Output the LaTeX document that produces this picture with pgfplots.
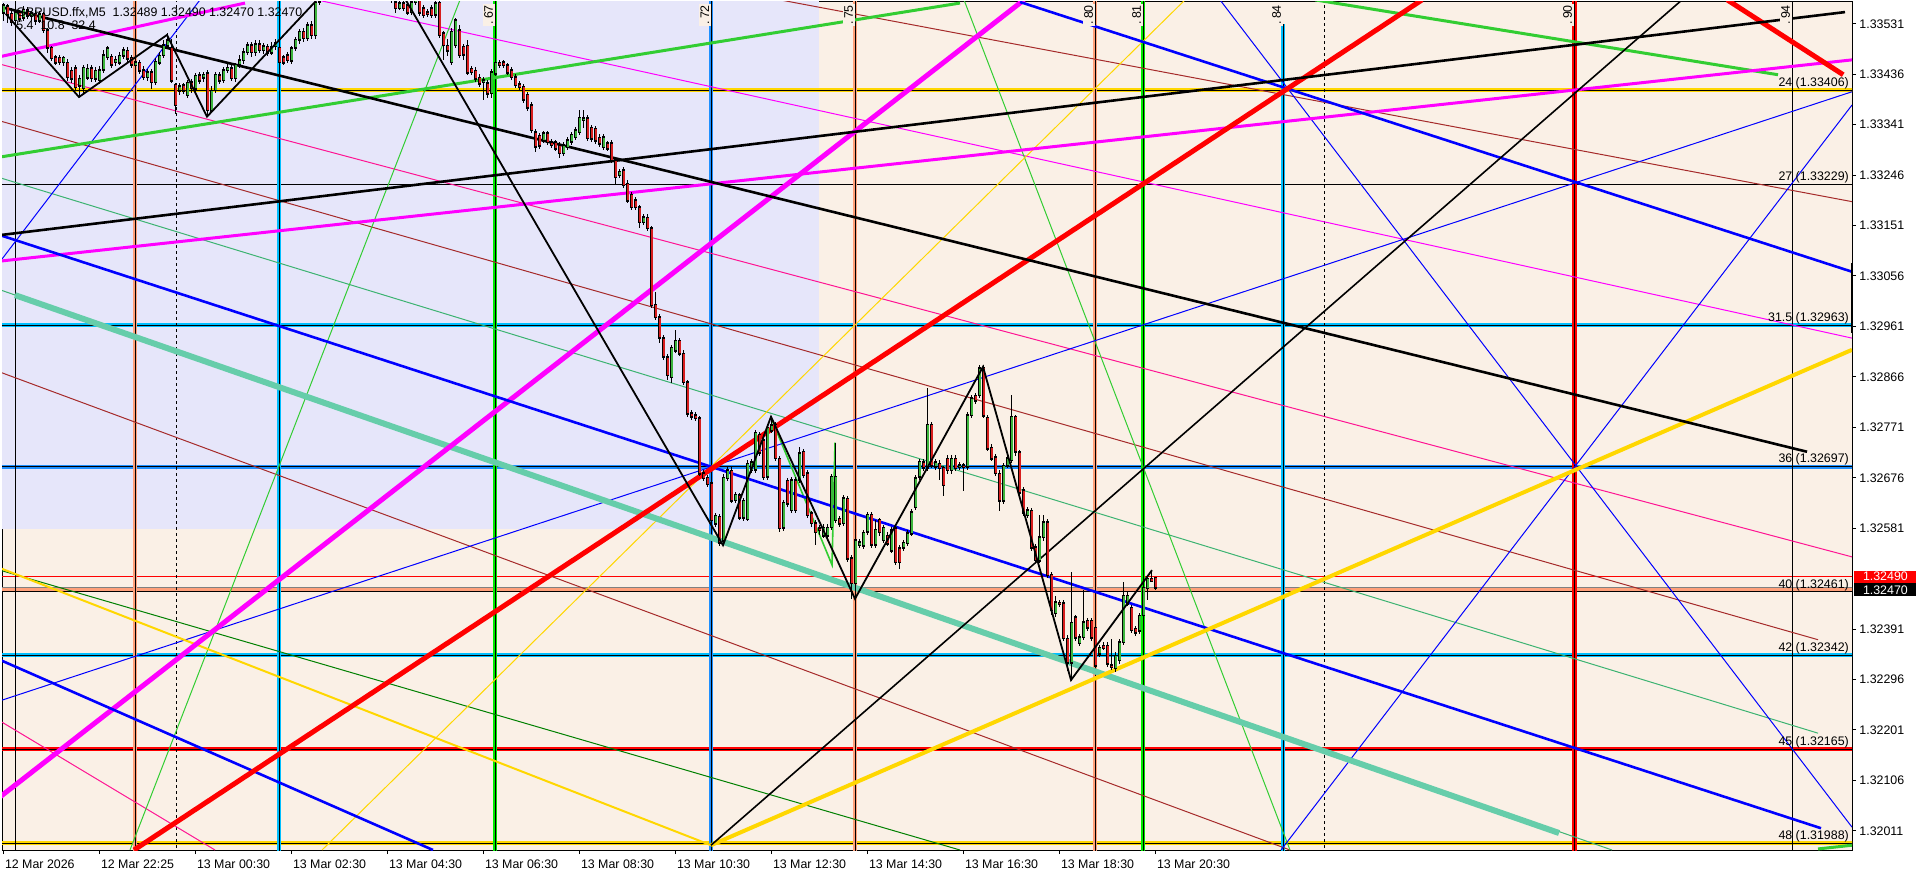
\documentclass[border=0pt]{standalone}
\usepackage{pgfplots}
\usepackage{pgfplotstable}
\usepackage{fontspec}
\setmainfont{Liberation Sans}
\pgfplotsset{compat=1.18}
\definecolor{linen}{RGB}{250,240,230}
\definecolor{lav}{RGB}{230,230,250}
\definecolor{gold}{RGB}{255,215,0}
\definecolor{dsky}{RGB}{0,191,255}
\definecolor{dodger}{RGB}{30,144,255}
\definecolor{salm}{RGB}{255,160,122}
\definecolor{limev}{RGB}{0,235,0}
\definecolor{limeg}{RGB}{50,205,50}
\definecolor{seag}{RGB}{60,179,113}
\definecolor{aqua}{RGB}{102,205,170}
\definecolor{magen}{RGB}{255,0,255}
\definecolor{dpink}{RGB}{255,20,147}
\definecolor{brn}{RGB}{165,42,42}
\definecolor{dgreen}{RGB}{0,128,0}
\definecolor{bullc}{RGB}{60,180,60}
\definecolor{bearc}{RGB}{215,30,30}
\newcommand{\lbl}{\fontsize{6.2}{7}\selectfont}
\pgfplotstableread{
i o h l c
0 133553 133572 133538 133567
1 133565 133570 133534 133549
2 133550 133561 133527 133534
3 133538 133561 133530 133553
4 133553 133559 133536 133542
5 133542 133565 133536 133557
6 133557 133563 133540 133546
7 133546 133557 133538 133551
8 133551 133557 133530 133538
9 133538 133555 133532 133550
10 133550 133553 133513 133519
11 133519 133525 133478 133486
12 133486 133491 133461 133467
13 133469 133474 133454 133459
14 133467 133472 133454 133459
15 133459 133472 133452 133467
16 133459 133465 133425 133431
17 133444 133452 133421 133429
18 133448 133454 133406 133412
19 133416 133435 133393 133429
20 133410 133454 133402 133448
21 133431 133455 133425 133448
22 133448 133454 133421 133429
23 133429 133450 133421 133444
24 133425 133452 133418 133444
25 133444 133482 133438 133472
26 133469 133491 133463 133486
27 133469 133474 133448 133454
28 133459 133472 133452 133463
29 133459 133478 133454 133472
30 133472 133488 133467 133482
31 133482 133488 133461 133467
32 133467 133472 133448 133454
33 133454 133467 133448 133459
34 133459 133465 133438 133444
35 133444 133452 133425 133431
36 133431 133446 133423 133440
37 133440 133446 133410 133421
38 133421 133467 133416 133459
39 133459 133478 133454 133472
40 133472 133501 133467 133491
41 133491 133514 133486 133501
42 133487 133504 133420 133425
43 133416 133421 133363 133378
44 133406 133420 133397 133414
45 133416 133421 133399 133406
46 133397 133425 133391 133421
47 133421 133427 133402 133410
48 133410 133440 133404 133435
49 133435 133440 133418 133425
50 133429 133440 133421 133435
51 133438 133444 133356 133369
52 133369 133414 133363 133406
53 133406 133440 133401 133435
54 133435 133440 133418 133425
55 133425 133450 133420 133444
56 133444 133455 133438 133448
57 133448 133454 133423 133429
58 133429 133459 133423 133454
59 133454 133472 133448 133463
60 133463 133486 133457 133478
61 133478 133497 133472 133491
62 133491 133497 133469 133478
63 133478 133501 133472 133493
64 133493 133501 133476 133482
65 133482 133497 133476 133489
66 133489 133495 133472 133478
67 133478 133497 133472 133489
68 133489 133504 133482 133495
69 133486 133491 133454 133459
70 133469 133474 133454 133459
71 133472 133478 133457 133463
72 133463 133491 133457 133486
73 133486 133508 133480 133501
74 133501 133523 133493 133516
75 133516 133523 133497 133504
76 133504 133534 133499 133529
77 133529 133538 133504 133510
78 133510 133585 133504 133572
79 133572 133599 133567 133591
80 133591 133614 133585 133604
81 133604 133625 133597 133617
82 133617 133636 133610 133629
83 133629 133649 133621 133642
84 133642 133659 133634 133651
85 133651 133670 133644 133663
86 133663 133678 133655 133670
87 133670 133687 133663 133680
88 133680 133687 133663 133670
89 133670 133693 133663 133685
90 133685 133693 133666 133674
91 133674 133689 133666 133681
92 133681 133693 133659 133666
93 133666 133674 133644 133651
94 133651 133659 133629 133636
95 133636 133644 133610 133617
96 133617 133625 133591 133599
97 133599 133606 133572 133580
98 133572 133576 133553 133561
99 133561 133576 133557 133570
100 133570 133576 133555 133561
101 133567 133572 133548 133553
102 133553 133580 133548 133572
103 133572 133584 133567 133576
104 133576 133582 133546 133553
105 133561 133568 133542 133548
106 133553 133559 133544 133550
107 133561 133568 133542 133548
108 133548 133578 133542 133570
109 133572 133580 133504 133510
110 133514 133519 133463 133491
111 133491 133504 133472 133482
112 133459 133523 133454 133516
113 133491 133542 133486 133538
114 133519 133529 133467 133472
115 133487 133493 133463 133472
116 133491 133501 133435 133440
117 133446 133452 133435 133440
118 133444 133450 133421 133429
119 133431 133437 133414 133420
120 133421 133431 133388 133425
121 133420 133425 133391 133401
122 133401 133446 133391 133440
123 133438 133465 133433 133459
124 133459 133465 133450 133455
125 133459 133463 133448 133454
126 133454 133459 133435 133440
127 133444 133450 133425 133431
128 133431 133437 133410 133416
129 133418 133423 133406 133412
130 133412 133418 133382 133388
131 133397 133403 133367 133373
132 133378 133384 133326 133331
133 133327 133333 133290 133299
134 133322 133327 133297 133303
135 133312 133331 133307 133326
136 133326 133331 133303 133309
137 133309 133314 133297 133303
138 133309 133314 133292 133297
139 133303 133309 133278 133288
140 133288 133309 133282 133303
141 133299 133318 133293 133312
142 133309 133327 133303 133322
143 133318 133337 133312 133331
144 133327 133369 133322 133354
145 133350 133369 133335 133354
146 133354 133359 133310 133316
147 133337 133342 133310 133316
148 133335 133340 133307 133312
149 133318 133324 133301 133307
150 133299 133324 133293 133318
151 133307 133312 133292 133297
152 133307 133312 133269 133275
153 133275 133280 133228 133243
154 133246 133258 133241 133252
155 133256 133261 133222 133228
156 133231 133237 133194 133199
157 133209 133214 133180 133186
158 133199 133205 133180 133186
159 133186 133192 133147 133158
160 133158 133173 133152 133167
161 133167 133173 133141 133147
162 133147 133152 132996 133002
163 133002 133026 132973 132979
164 132979 132985 132932 132941
165 132939 132945 132898 132904
166 132904 132909 132860 132870
167 132866 132926 132855 132921
168 132917 132954 132911 132936
169 132936 132941 132906 132911
170 132911 132917 132851 132857
171 132857 132862 132792 132798
172 132798 132804 132785 132791
173 132794 132800 132783 132789
174 132789 132794 132680 132685
175 132685 132691 132670 132676
176 132678 132683 132661 132666
177 132666 132672 132591 132597
178 132591 132612 132585 132606
179 132602 132608 132548 132553
180 132559 132683 132550 132678
181 132676 132697 132670 132691
182 132691 132697 132629 132634
183 132634 132649 132629 132644
184 132644 132649 132597 132602
185 132602 132640 132597 132634
186 132600 132710 132595 132704
187 132691 132712 132685 132706
188 132691 132766 132685 132761
189 132757 132762 132717 132723
190 132747 132753 132672 132678
191 132678 132776 132672 132770
192 132766 132791 132761 132776
193 132776 132781 132708 132713
194 132713 132719 132576 132582
195 132582 132634 132576 132629
196 132672 132678 132623 132629
197 132615 132678 132610 132672
198 132672 132678 132610 132615
199 132672 132734 132666 132723
200 132725 132730 132676 132681
201 132685 132691 132600 132606
202 132610 132615 132585 132591
203 132591 132597 132550 132574
204 132582 132587 132568 132578
205 132568 132589 132563 132583
206 132568 132589 132563 132583
207 132583 132683 132578 132678
208 132597 132742 132591 132678
209 132600 132606 132585 132591
210 132591 132644 132585 132638
211 132638 132644 132519 132525
212 132525 132531 132448 132478
213 132478 132565 132452 132559
214 132550 132561 132544 132555
215 132550 132580 132544 132574
216 132574 132612 132568 132606
217 132606 132612 132544 132550
218 132550 132597 132544 132578
219 132597 132602 132568 132574
220 132559 132587 132553 132582
221 132568 132574 132548 132553
222 132540 132583 132534 132578
223 132582 132587 132512 132518
224 132544 132550 132506 132518
225 132544 132559 132538 132553
226 132553 132578 132548 132572
227 132572 132617 132566 132612
228 132621 132681 132615 132676
229 132678 132712 132672 132706
230 132706 132712 132689 132695
231 132695 132847 132689 132776
232 132776 132781 132695 132700
233 132697 132712 132691 132706
234 132704 132710 132672 132695
235 132695 132700 132644 132662
236 132713 132719 132685 132691
237 132691 132719 132685 132713
238 132713 132719 132689 132695
239 132697 132706 132691 132700
240 132700 132706 132653 132697
241 132697 132800 132691 132794
242 132794 132832 132789 132826
243 132832 132838 132817 132823
244 132832 132889 132826 132883
245 132885 132889 132789 132794
246 132791 132796 132727 132732
247 132734 132740 132708 132713
248 132715 132721 132680 132685
249 132685 132691 132615 132634
250 132634 132706 132629 132700
251 132700 132719 132695 132713
252 132710 132832 132704 132791
253 132791 132796 132719 132725
254 132725 132730 132644 132649
255 132653 132659 132604 132610
256 132606 132621 132600 132615
257 132615 132621 132540 132546
258 132546 132551 132516 132521
259 132521 132606 132516 132565
260 132565 132608 132559 132593
261 132593 132598 132487 132493
262 132493 132499 132418 132427
263 132421 132455 132416 132442
264 132442 132448 132435 132440
265 132440 132446 132369 132374
266 132374 132380 132314 132329
267 132329 132499 132295 132404
268 132414 132420 132371 132376
269 132365 132382 132359 132376
270 132376 132465 132371 132404
271 132408 132414 132389 132395
272 132408 132414 132371 132376
273 132395 132401 132318 132323
274 132346 132363 132340 132357
275 132361 132367 132352 132357
276 132361 132367 132321 132327
277 132323 132371 132314 132320
278 132318 132348 132312 132342
279 132333 132373 132327 132367
280 132367 132480 132361 132455
281 132440 132461 132435 132455
282 132431 132437 132384 132389
283 132393 132399 132380 132386
284 132389 132423 132384 132418
285 132418 132474 132412 132469
286 132469 132493 132446 132487
287 132487 132502 132480 132484
288 132489 132490 132465 132470
}\candles
\begin{document}
\begin{tikzpicture}
\begin{axis}[
  scale only axis, width=925pt, height=424pt,
  xmin=-0.4, xmax=462.1, ymin=131975, ymax=133572,
  axis background/.style={fill=linen},
  axis line style={black, line width=0.5pt},
  xtick={0,24,...,288},
  xticklabels={12 Mar 2026,12 Mar 22:25,13 Mar 00:30,13 Mar 02:30,13 Mar 04:30,13 Mar 06:30,13 Mar 08:30,13 Mar 10:30,13 Mar 12:30,13 Mar 14:30,13 Mar 16:30,13 Mar 18:30,13 Mar 20:30},
  xtick pos=bottom, ytick pos=right, yticklabel pos=right,
  tick align=outside, major tick length=2pt,
  tick style={black, line width=0.5pt},
  xticklabel style={anchor=north west, font=\lbl, inner sep=0pt, xshift=0.5pt, yshift=-2.5pt},
  ytick={133531,133436,133341,133246,133151,133056,132961,132866,132771,132676,132581,132391,132296,132201,132106,132011},
  yticklabels={1.33531,1.33436,1.33341,1.33246,1.33151,1.33056,1.32961,1.32866,1.32771,1.32676,1.32581,1.32391,1.32296,1.32201,1.32106,1.32011},
  yticklabel style={anchor=west, font=\lbl, inner sep=0pt, xshift=1.5pt},
  scaled y ticks=false,
  clip=true,
]
\coordinate (SW) at (rel axis cs:0,0);
\coordinate (NE) at (rel axis cs:1,1);
\coordinate (NW) at (rel axis cs:0,1);
\coordinate (BID) at (axis cs:462.1,132490);
\coordinate (ASK) at (axis cs:462.1,132470);
% lavender rectangle
\addplot[fill=lav, draw=none] coordinates {(-1,132580) (203.85,132580) (203.85,133700) (-1,133700)} -- cycle;
% horizontal levels
\addplot[gold, line width=2pt] coordinates {(-1,133406) (463,133406)};
\addplot[black, line width=0.4pt] coordinates {(-1,133406) (463,133406)};
\addplot[black, line width=0.5pt] coordinates {(-1,133229) (463,133229)};
\addplot[dsky, line width=2pt] coordinates {(-1,132963) (463,132963)};
\addplot[black, line width=0.4pt] coordinates {(-1,132963) (463,132963)};
\addplot[dodger, line width=2pt] coordinates {(-1,132697) (463,132697)};
\addplot[black, line width=0.4pt] coordinates {(-1,132697) (463,132697)};
\addplot[red, line width=0.5pt] coordinates {(-1,132490) (463,132490)};
\addplot[gray, line width=0.5pt] coordinates {(-1,132470) (463,132470)};
\addplot[salm, line width=1.5pt] coordinates {(-1,132465) (463,132465)};
\addplot[black, line width=0.5pt] coordinates {(-1,132461) (463,132461)};
\addplot[dsky, line width=2pt] coordinates {(-1,132342) (463,132342)};
\addplot[black, line width=0.4pt] coordinates {(-1,132342) (463,132342)};
\addplot[red, line width=2pt] coordinates {(-1,132165) (463,132165)};
\addplot[black, line width=0.4pt] coordinates {(-1,132165) (463,132165)};
\addplot[gold, line width=2pt] coordinates {(-1,131988) (463,131988)};
\addplot[black, line width=0.4pt] coordinates {(-1,131988) (463,131988)};
% vertical lines
\addplot[black, line width=0.5pt] coordinates {(2.85,131900) (2.85,133700)};
\addplot[salm, line width=1.6pt] coordinates {(32.85,131900) (32.85,133700)};
\addplot[black, line width=0.4pt] coordinates {(32.85,131900) (32.85,133700)};
\addplot[black, line width=0.5pt, dash pattern=on 1.5pt off 1.5pt] coordinates {(43.1,131900) (43.1,133700)};
\addplot[dsky, line width=2pt] coordinates {(68.85,131900) (68.85,133700)};
\addplot[black, line width=0.4pt] coordinates {(68.85,131900) (68.85,133700)};
\addplot[limev, line width=2.3pt] coordinates {(122.85,131900) (122.85,133700)};
\addplot[black, line width=0.4pt] coordinates {(122.85,131900) (122.85,133700)};
\addplot[dodger, line width=2pt] coordinates {(176.85,131900) (176.85,133700)};
\addplot[black, line width=0.4pt] coordinates {(176.85,131900) (176.85,133700)};
\addplot[salm, line width=1.6pt] coordinates {(212.85,131900) (212.85,133700)};
\addplot[black, line width=0.4pt] coordinates {(212.85,131900) (212.85,133700)};
\addplot[salm, line width=1.6pt] coordinates {(272.85,131900) (272.85,133700)};
\addplot[black, line width=0.4pt] coordinates {(272.85,131900) (272.85,133700)};
\addplot[limev, line width=2.3pt] coordinates {(284.85,131900) (284.85,133700)};
\addplot[black, line width=0.4pt] coordinates {(284.85,131900) (284.85,133700)};
\addplot[dsky, line width=2pt] coordinates {(319.85,131900) (319.85,133530)};
\addplot[black, line width=0.4pt] coordinates {(319.85,131900) (319.85,133530)};
\addplot[black, line width=0.5pt, dash pattern=on 1.5pt off 1.5pt] coordinates {(330.1,131900) (330.1,133700)};
\addplot[red, line width=2.5pt] coordinates {(392.6,131900) (392.6,133700)};
\addplot[black, line width=0.4pt] coordinates {(392.6,131900) (392.6,133700)};
\addplot[black, line width=0.5pt] coordinates {(447.1,131900) (447.1,133700)};
% diagonal lines
\addplot[seag, line width=0.5pt] coordinates {(-0.9,133241) (453.6,132195)};
\addplot[seag, line width=0.5pt] coordinates {(-0.9,133030) (402.1,131975)};
\addplot[dgreen, line width=0.5pt] coordinates {(-0.9,132502) (239.1,131975)};
\addplot[brn, line width=0.5pt] coordinates {(-0.9,133348) (453.6,132371)};
\addplot[brn, line width=0.5pt] coordinates {(194.1,133576) (462.1,133196)};
\addplot[brn, line width=0.5pt] coordinates {(-0.9,132875) (321.6,131975)};
\addplot[magen, line width=0.5pt] coordinates {(78.35,133576) (462.1,132939)};
\addplot[dpink, line width=0.5pt] coordinates {(-0.9,133455) (462.1,132527)};
\addplot[dpink, line width=0.5pt] coordinates {(-0.9,132218) (52.85,131975)};
\addplot[limeg, line width=0.5pt] coordinates {(31.6,131975) (114.1,133576)};
\addplot[limeg, line width=0.5pt] coordinates {(240.1,133576) (321.6,131975)};
\addplot[limeg, line width=0.8pt] coordinates {(191.85,132789) (207.1,132512) (207.85,132742)};
\addplot[blue, line width=0.5pt] coordinates {(-0.9,132256) (462.1,133403)};
\addplot[blue, line width=0.5pt] coordinates {(-0.9,133083) (49.1,133576)};
\addplot[blue, line width=0.5pt] coordinates {(319.35,131975) (462.1,133378)};
\addplot[blue, line width=0.5pt] coordinates {(304.1,133576) (462.1,132018)};
\addplot[gold, line width=0.5pt] coordinates {(79.6,131975) (295.35,133576)};
\addplot[gold, line width=1pt] coordinates {(-0.9,132506) (176.85,131984)};
\addplot[aqua, line width=3pt] coordinates {(2.85,133020) (388.85,132007)};
\addplot[limeg, line width=1.5pt] coordinates {(-0.9,133280) (239.1,133570)};
\addplot[limeg, line width=1.5pt] coordinates {(327.85,133576) (443.6,133435)};
\addplot[limeg, line width=1.5pt] coordinates {(453.6,131977) (462.1,131984)};
\addplot[magen, line width=1.5pt] coordinates {(-0.9,133084) (462.1,133463)};
\addplot[magen, line width=1.5pt] coordinates {(-0.9,133469) (60.35,133570)};
\addplot[magen, line width=2.5pt] coordinates {(-0.9,132075) (255.1,133576)};
\addplot[blue, line width=1.3pt] coordinates {(-0.9,133133) (454.35,132016)};
\addplot[blue, line width=1.3pt] coordinates {(254.1,133572) (462.1,133064)};
\addplot[blue, line width=1.3pt] coordinates {(-0.9,132333) (107.35,131975)};
\addplot[red, line width=2.5pt] coordinates {(32.6,131975) (354.6,133576)};
\addplot[red, line width=2.5pt] coordinates {(430.9,133576) (459.9,133435)};
\addplot[gold, line width=2pt] coordinates {(176.85,131984) (462.1,132917)};
\addplot[black, line width=1.3pt] coordinates {(-0.9,133133) (460.35,133553)};
\addplot[black, line width=1.3pt] coordinates {(-0.9,133563) (450.85,132725)};
\addplot[black, line width=0.8pt] coordinates {(176.85,131984) (419.6,133576)};
\addplot[black, line width=1.5pt] coordinates {(462.1,133081) (462.1,132949)};
% candles: wicks
\addplot[draw=none, mark=none, error bars/.cd, y dir=both, y explicit, error mark=none,
  error bar style={draw=black, line width=0.5pt, line cap=butt}]
  table[x=i, y expr={(\thisrow{h}+\thisrow{l})/2}, y error expr={(\thisrow{h}-\thisrow{l})/2}] {\candles};
% bodies: black outline
\addplot[draw=none, mark=none, error bars/.cd, y dir=both, y explicit, error mark=none,
  error bar style={draw=black, line width=1.8pt, line cap=butt}]
  table[x=i, y expr={(\thisrow{o}+\thisrow{c})/2}, y error expr={abs(\thisrow{c}-\thisrow{o})/2+1.9}] {\candles};
% bull bodies
\addplot[draw=none, mark=none, error bars/.cd, y dir=both, y explicit, error mark=none,
  error bar style={draw=bullc, line width=1.0pt, line cap=butt}]
  table[x=i, y expr={\thisrow{c}>\thisrow{o} ? (\thisrow{o}+\thisrow{c})/2 : nan}, y error expr={max(abs(\thisrow{c}-\thisrow{o})/2-0.9,0.1)}] {\candles};
% bear bodies
\addplot[draw=none, mark=none, error bars/.cd, y dir=both, y explicit, error mark=none,
  error bar style={draw=bearc, line width=1.0pt, line cap=butt}]
  table[x=i, y expr={\thisrow{c}<\thisrow{o} ? (\thisrow{o}+\thisrow{c})/2 : nan}, y error expr={max(abs(\thisrow{c}-\thisrow{o})/2-0.9,0.1)}] {\candles};
% zigzag
\addplot[black, line width=0.9pt] coordinates {(0.5,133550) (18.85,133393) (40.85,133510) (50.85,133356) (77.85,133572) (92.1,133685) (179.85,132549) (191.85,132791) (212.85,132448) (244.85,132885) (266.85,132295) (287.1,132502)};
% level labels
\node[anchor=south east, font=\lbl, inner sep=0.4pt] at (axis cs:461.6,133406) {24 (1.33406)};
\node[anchor=south east, font=\lbl, inner sep=0.4pt] at (axis cs:461.6,133229) {27 (1.33229)};
\node[anchor=south east, font=\lbl, inner sep=0.4pt] at (axis cs:461.6,132963) {31.5 (1.32963)};
\node[anchor=south east, font=\lbl, inner sep=0.4pt] at (axis cs:461.6,132697) {36 (1.32697)};
\node[anchor=south east, font=\lbl, inner sep=0.4pt] at (axis cs:461.6,132461) {40 (1.32461)};
\node[anchor=south east, font=\lbl, inner sep=0.4pt] at (axis cs:461.6,132342) {42 (1.32342)};
\node[anchor=south east, font=\lbl, inner sep=0.4pt] at (axis cs:461.6,132165) {45 (1.32165)};
\node[anchor=south east, font=\lbl, inner sep=0.4pt] at (axis cs:461.6,131988) {48 (1.31988)};
% vertical line labels
\node[rotate=90, anchor=south east, font=\lbl, fill=linen, inner sep=0.8pt, xshift=-0.6pt] at (axis cs:122.85,133572) {.\,67};
\node[rotate=90, anchor=south east, font=\lbl, fill=linen, inner sep=0.8pt, xshift=-0.6pt] at (axis cs:176.85,133572) {.\,72};
\node[rotate=90, anchor=south east, font=\lbl, fill=linen, inner sep=0.8pt, xshift=-0.6pt] at (axis cs:212.85,133572) {.\,75};
\node[rotate=90, anchor=south east, font=\lbl, fill=linen, inner sep=0.8pt, xshift=-0.6pt] at (axis cs:272.85,133572) {.\,80};
\node[rotate=90, anchor=south east, font=\lbl, fill=linen, inner sep=0.8pt, xshift=-0.6pt] at (axis cs:284.85,133572) {.\,81};
\node[rotate=90, anchor=south east, font=\lbl, fill=linen, inner sep=0.8pt, xshift=-0.6pt] at (axis cs:319.85,133572) {.\,84};
\node[rotate=90, anchor=south east, font=\lbl, fill=linen, inner sep=0.8pt, xshift=-0.6pt] at (axis cs:392.6,133572) {.\,90};
\node[rotate=90, anchor=south east, font=\lbl, fill=linen, inner sep=0.8pt, xshift=-0.6pt] at (axis cs:447.1,133572) {.\,94};
\end{axis}
\node[anchor=west, font=\lbl, inner sep=0pt] at ([xshift=7pt,yshift=-5.3pt]NW) {GBPUSD.ffx,M5\ \ 1.32489 1.32490 1.32470 1.32470};
\node[anchor=west, font=\lbl, inner sep=0pt] at ([xshift=7pt,yshift=-11.5pt]NW) {5.4\ \ 10.8\ \ 32.4};
\node[anchor=west, fill=red, text=white, font=\lbl, inner sep=0pt, minimum width=31pt, minimum height=6pt, xshift=1pt] at (BID) {1.32490};
\node[anchor=west, fill=black, text=white, font=\lbl, inner sep=0pt, minimum width=31pt, minimum height=6.5pt, xshift=1pt, yshift=-1.3pt] at (ASK) {1.32470};
\pgfresetboundingbox
\path[use as bounding box] ([xshift=-1pt,yshift=-12pt]SW) rectangle ([xshift=32pt,yshift=1pt]NE);
\end{tikzpicture}
\end{document}
